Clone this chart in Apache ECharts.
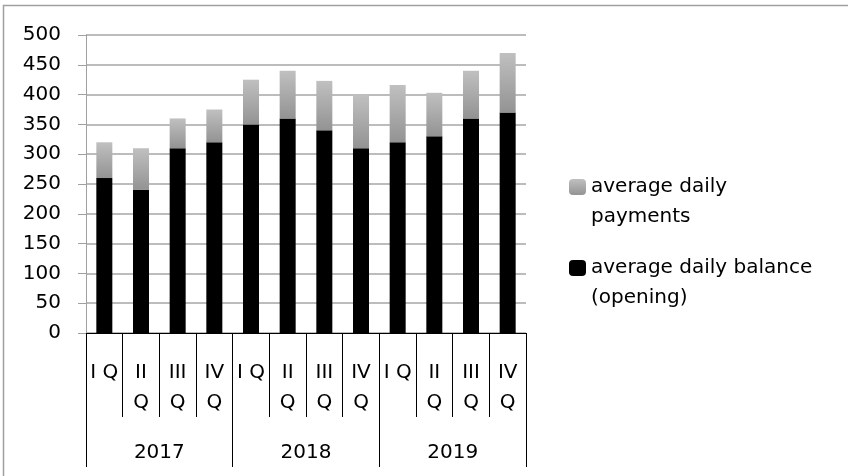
<!DOCTYPE html>
<html>
<head>
<meta charset="utf-8">
<script src="https://cdn.jsdelivr.net/npm/echarts@6/dist/echarts.min.js"></script>
<style>
  html, body { margin: 0; padding: 0; background: #fff; }
  #main { width: 848px; height: 476px; }
</style>
</head>
<body>
<div id="main"></div>
<script>
// 数据
var quarters = ['I Q', 'II\nQ', 'III\nQ', 'IV\nQ', 'I Q', 'II\nQ', 'III\nQ', 'IV\nQ', 'I Q', 'II\nQ', 'III\nQ', 'IV\nQ'];
var years = ['2017', '2018', '2019'];
var balance = [260, 240, 310, 320, 350, 360, 340, 310, 320, 330, 360, 370];
var payments = [60, 70, 50, 55, 75, 80, 83, 90, 96, 73, 80, 100];
var balanceName = 'average daily balance (opening)';
var paymentsName = 'average daily payments';

var font = 'DejaVu Sans';
var fontSize = 20;

var grayFill = new echarts.graphic.LinearGradient(0, 0, 0, 1, [
    { offset: 0, color: '#c0c0c0' },
    { offset: 1, color: '#939393' }
]);

//图例（两个，图标对齐第一行：前面加一个空行让文字整体下移）
function makeLegend(name, label, iconCenter) {
    return {
        data: [name],
        left: 569,
        top: iconCenter - 45,
        padding: 0,
        itemWidth: 17,
        itemHeight: 16,
        selectedMode: false,
        formatter: function() { return ' \n' + label; },
        textStyle: {
            fontFamily: font,
            fontSize: fontSize,
            color: '#000',
            lineHeight: 30
        }
    };
}

var myChart = echarts.init(document.getElementById('main'));
var option = {
    animation: false,
    backgroundColor: '#fff',
    textStyle: { fontFamily: font },
    graphic: [{
        type: 'rect',
        shape: { x: 3.5, y: 5.5, width: 900, height: 600 },
        style: { fill: 'none', stroke: '#a0a0a0', lineWidth: 1.5 },
        silent: true
    }],
    legend: [
        makeLegend(paymentsName, 'average daily\npayments', 187),
        makeLegend(balanceName, 'average daily balance\n(opening)', 268)
    ],
    grid: {
        left: 86,
        right: 322,
        top: 35,
        bottom: 143,
        containLabel: false
    },
    xAxis: [{
        type: 'category',
        data: quarters,
        axisLine: { lineStyle: { color: '#000', width: 1 } },
        axisTick: { show: true, interval: 0, length: 84, lineStyle: { color: '#000' } },
        axisLabel: {
            interval: 0,
            margin: 25,
            color: '#000',
            fontFamily: font,
            fontSize: fontSize,
            lineHeight: 30
        }
    }, {
        type: 'category',
        data: years,
        position: 'bottom',
        axisLine: { show: false },
        axisTick: { show: true, interval: 0, length: 134, lineStyle: { color: '#000' } },
        axisLabel: {
            interval: 0,
            margin: 105,
            color: '#000',
            fontFamily: font,
            fontSize: fontSize,
            lineHeight: 30
        }
    }],
    yAxis: {
        type: 'value',
        min: 0,
        max: 500,
        interval: 50,
        axisLine: { show: true, lineStyle: { color: '#a0a0a0' } },
        axisTick: { show: true, length: 8, lineStyle: { color: '#a0a0a0' } },
        splitLine: { lineStyle: { color: '#a6a6a6', width: 1.5 } },
        axisLabel: {
            margin: 25,
            color: '#000',
            fontFamily: font,
            fontSize: fontSize
        }
    },
    series: [{
        name: balanceName,
        type: 'bar',
        stack: 'total',
        barWidth: 16,
        itemStyle: { color: '#000' },
        data: balance
    }, {
        name: paymentsName,
        type: 'bar',
        stack: 'total',
        barWidth: 16,
        itemStyle: { color: grayFill },
        data: payments
    }]
};
myChart.setOption(option);
</script>
</body>
</html>
